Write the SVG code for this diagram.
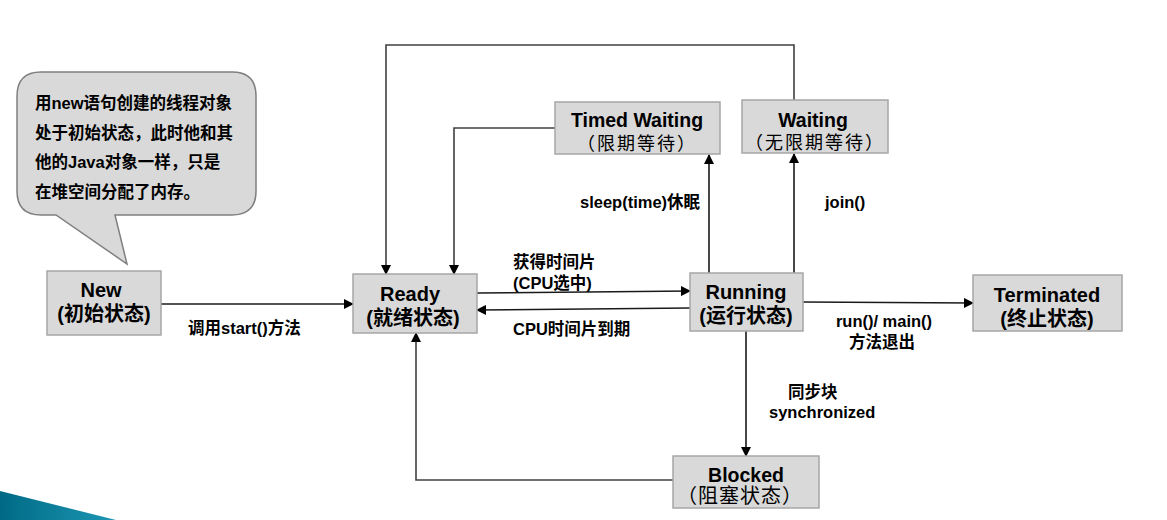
<svg xmlns="http://www.w3.org/2000/svg" width="1167" height="520" viewBox="0 0 1167 520">
<defs>
<linearGradient id="teal" x1="0" y1="0" x2="1" y2="0">
<stop offset="0" stop-color="#006a86"/>
<stop offset="1" stop-color="#1c97b4"/>
</linearGradient>
<marker id="arr" viewBox="0 0 10 10" refX="9" refY="5" markerWidth="10" markerHeight="10" markerUnits="userSpaceOnUse" orient="auto">
<path d="M0,0 L10,5 L0,10 z" fill="#000"/>
</marker>
<style>
.box{fill:#d9d9d9;stroke:#a6a6a6;stroke-width:1.5}
.bubble{fill:#d9d9d9;stroke:#7f7f7f;stroke-width:1.5}
.t{font-family:"Liberation Sans","Noto Sans CJK SC",sans-serif;font-weight:bold;font-size:20px;fill:#000;text-anchor:middle}
.ta{font-family:"Liberation Sans",Arial,sans-serif;font-weight:bold;font-size:19.5px;fill:#000;text-anchor:middle}
.tc{font-family:"Liberation Sans","Noto Sans CJK SC",sans-serif;font-size:18px;fill:#000;text-anchor:middle;letter-spacing:2px}
.lbl{font-family:"Liberation Sans","Noto Sans CJK SC",sans-serif;font-weight:bold;font-size:16.5px;fill:#000}
.bt{font-family:"Liberation Sans","Noto Sans CJK SC",sans-serif;font-weight:bold;font-size:16.5px;fill:#000}
.c{fill:none;stroke:#1a1a1a;stroke-width:1.6}
.cg{fill:none;stroke:#404040;stroke-width:1.6}
</style>
</defs>
<rect width="1167" height="520" fill="#fff"/>
<polygon points="0,491 116,520 0,520" fill="url(#teal)"/>

<g id="callout">
<path class="bubble" d="M41,72 H232 Q256,72 256,96 V191 Q256,215 232,215 H115 L127,264 L56,215 H41 Q17,215 17,191 V96 Q17,72 41,72 Z"/>
<text class="bt" x="35" y="109">用new语句创建的线程对象</text>
<text class="bt" x="35" y="139">处于初始状态，此时他和其</text>
<text class="bt" x="35" y="168">他的Java对象一样，只是</text>
<text class="bt" x="35" y="198">在堆空间分配了内存。</text>
</g>

<g id="connectors">
<line class="c" x1="161" y1="304" x2="353" y2="304" marker-end="url(#arr)"/>
<line class="c" x1="477" y1="293" x2="690" y2="291" marker-end="url(#arr)"/>
<line class="c" x1="690" y1="308" x2="477" y2="310" marker-end="url(#arr)"/>
<line class="c" x1="709" y1="273" x2="709" y2="155" marker-end="url(#arr)"/>
<line class="c" x1="794" y1="273" x2="794" y2="154" marker-end="url(#arr)"/>
<polyline class="cg" points="555,128 454,128 454,274" marker-end="url(#arr)"/>
<polyline class="cg" points="794,100 794,45 386,45 386,274" marker-end="url(#arr)"/>
<line class="c" x1="803" y1="302" x2="973" y2="303" marker-end="url(#arr)"/>
<line class="c" x1="746" y1="331" x2="746" y2="456" marker-end="url(#arr)"/>
<polyline class="cg" points="673,480 416,480 416,333" marker-end="url(#arr)"/>
<text class="lbl" x="188" y="334">调用start()方法</text>
<text class="lbl" x="513" y="268">获得时间片</text>
<text class="lbl" x="513" y="289">(CPU选中)</text>
<text class="lbl" x="513" y="335">CPU时间片到期</text>
<text class="lbl" x="580" y="208">sleep(time)休眠</text>
<text class="lbl" x="825" y="208">join()</text>
<text class="lbl" x="884" y="327" text-anchor="middle">run()/ main()</text>
<text class="lbl" x="882" y="348" text-anchor="middle">方法退出</text>
<text class="lbl" x="788" y="398">同步块</text>
<text class="lbl" x="769" y="418">synchronized</text>
</g>

<g id="new">
<rect class="box" x="47" y="271" width="114" height="64"/>
<text class="t" x="101" y="297">New</text>
<text class="t" x="104" y="321">(初始状态)</text>
</g>
<g id="ready">
<rect class="box" x="353" y="274" width="124" height="59"/>
<text class="t" x="410" y="301">Ready</text>
<text class="t" x="413" y="325">(就绪状态)</text>
</g>
<g id="running">
<rect class="box" x="690" y="273" width="113" height="58"/>
<text class="t" x="746" y="299">Running</text>
<text class="t" x="746" y="323">(运行状态)</text>
</g>
<g id="timed-waiting">
<rect class="box" x="555" y="102" width="165" height="52"/>
<text class="ta" x="637" y="127">Timed Waiting</text>
<text class="tc" x="637" y="150">（限期等待）</text>
</g>
<g id="waiting">
<rect class="box" x="742" y="100" width="146" height="53"/>
<text class="ta" x="813" y="127">Waiting</text>
<text class="tc" x="815" y="149">（无限期等待）</text>
</g>
<g id="terminated">
<rect class="box" x="973" y="275" width="149" height="56"/>
<text class="t" x="1047" y="302">Terminated</text>
<text class="t" x="1047" y="326">(终止状态)</text>
</g>
<g id="blocked">
<rect class="box" x="673" y="456" width="146" height="52"/>
<text class="ta" x="746" y="482">Blocked</text>
<text class="tc" x="740" y="503" style="font-size:20px;letter-spacing:1px">（阻塞状态）</text>
</g>
</svg>
